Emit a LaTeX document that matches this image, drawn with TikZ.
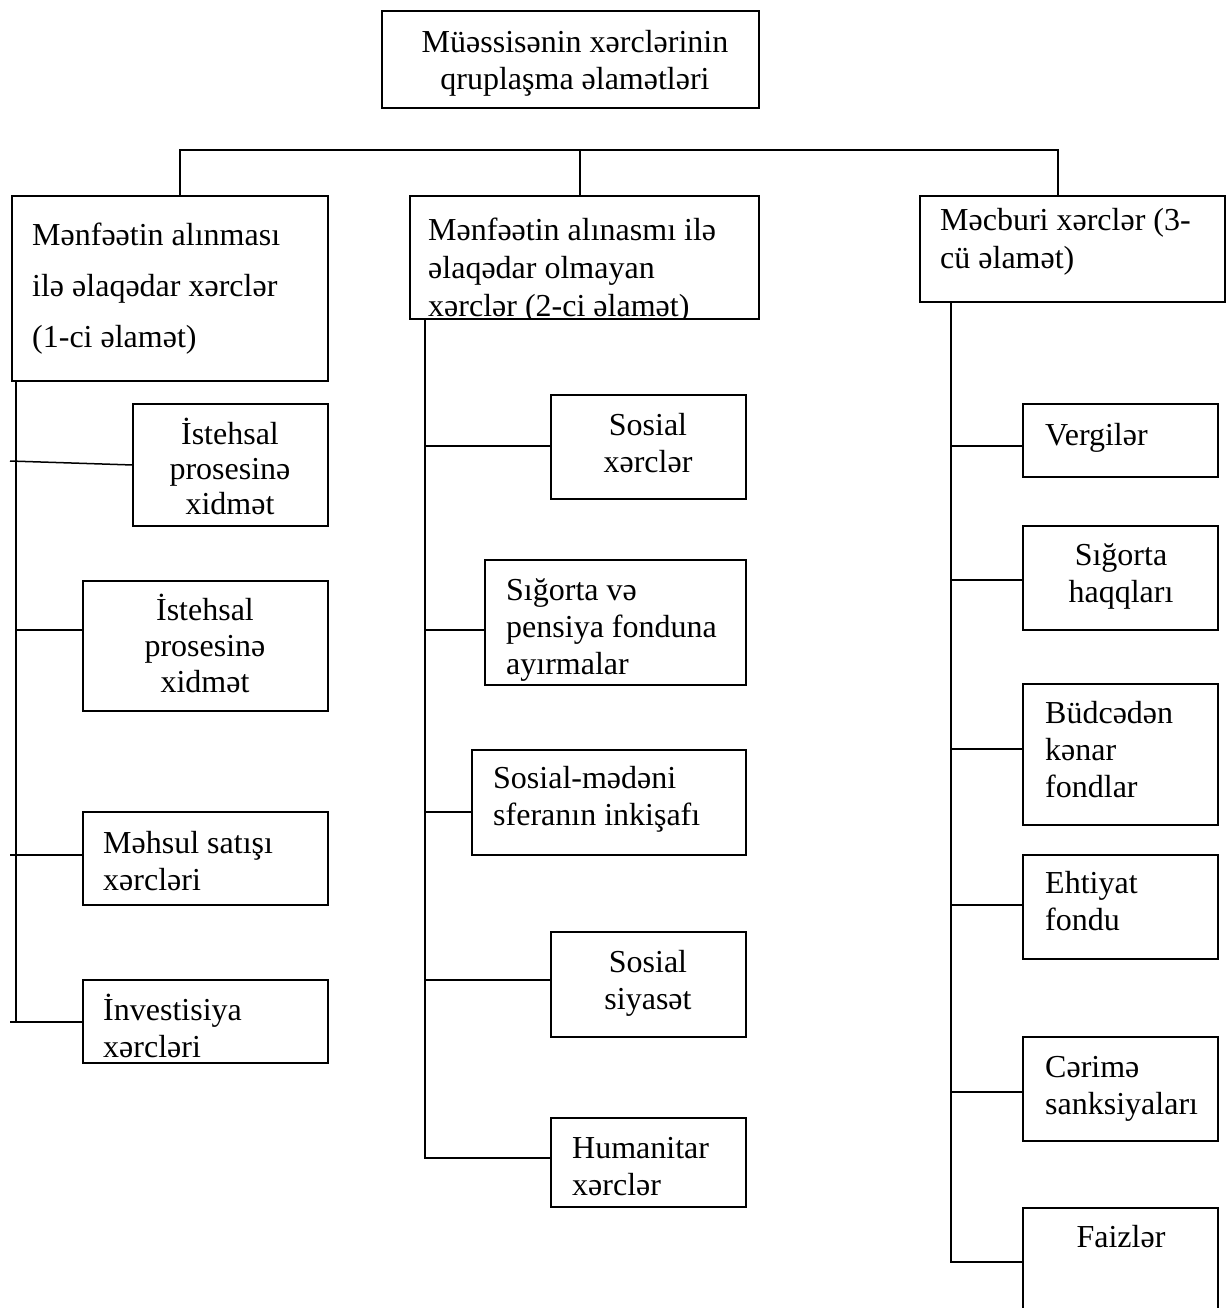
\documentclass[tikz,border=0pt]{standalone}
\usepackage{fontspec}
\setmainfont{Liberation Serif}
\newcommand\bx[5]{\node[box, minimum width={(#4-#2)*1pt}, minimum height={(#5-#3)*1pt}] (#1) at (#2,#3) {};}
\begin{document}
\begin{tikzpicture}[x=1pt,y=-1pt,
  box/.style={draw, line width=1.5pt, inner sep=0pt, outer sep=0pt, anchor=north west},
  txt/.style={inner sep=0pt, align=left, anchor=base west, font=\fontsize{32}{37}\selectfont},
  ctxt/.style={inner sep=0pt, align=center, anchor=base, font=\fontsize{32}{37}\selectfont},
  ln/.style={line width=1.5pt}]
\fill[white] (0,0) rectangle (1227,1308);
\useasboundingbox (0,0) rectangle (1227,1308);

% boxes
\bx{T}{382}{11}{759}{108}
\bx{b1}{12}{196}{328}{381}
\bx{b2}{410}{196}{759}{319}
\bx{b3}{920}{196}{1225}{302}
\bx{A}{133}{404}{328}{526}
\bx{B}{83}{581}{328}{711}
\bx{C}{83}{812}{328}{905}
\bx{D}{83}{980}{328}{1063}
\bx{M1}{551}{395}{746}{499}
\bx{M2}{485}{560}{746}{685}
\bx{M3}{472}{750}{746}{855}
\bx{M4}{551}{932}{746}{1037}
\bx{M5}{551}{1118}{746}{1207}
\bx{R1}{1023}{404}{1218}{477}
\bx{R2}{1023}{526}{1218}{630}
\bx{R3}{1023}{684}{1218}{825}
\bx{R4}{1023}{855}{1218}{959}
\bx{R5}{1023}{1037}{1218}{1141}
\bx{R6}{1023}{1208}{1218}{1330}

% texts (positions are the baseline of the last line)
\node[ctxt] (tT) at (575,90) {Müəssisənin xərclərinin\\qruplaşma əlamətləri};
\node[txt, font=\fontsize{32}{51}\selectfont] (t1) at (32,347) {Mənfəətin alınması\\ilə əlaqədar xərclər\\(1-ci əlamət)};
\begin{scope}
  \clip (b2.north west) rectangle (b2.south east);
  \node[txt, font=\fontsize{32}{38}\selectfont] (t2) at (428,316) {Mənfəətin alınasmı ilə\\əlaqədar olmayan\\xərclər (2-ci əlamət)};
\end{scope}
\node[txt, font=\fontsize{32}{38}\selectfont] (t3) at (940,268) {Məcburi xərclər (3-\\cü əlamət)};

\node[ctxt, font=\fontsize{32}{35}\selectfont] (tA) at (230,514) {İstehsal\\prosesinə\\xidmət};
\node[ctxt, font=\fontsize{32}{36}\selectfont] (tB) at (205,692) {İstehsal\\prosesinə\\xidmət};
\node[txt] (tC) at (103,890) {Məhsul satışı\\xərcləri};
\node[txt] (tD) at (103,1057) {İnvestisiya\\xərcləri};

\node[ctxt] (tM1) at (648,472) {Sosial\\xərclər};
\begin{scope}
  \clip (M2.north west) rectangle (M2.south east);
  \node[txt] (tM2) at (506,674) {Sığorta və\\pensiya fonduna\\ayırmalar};
\end{scope}
\node[txt] (tM3) at (493,825) {Sosial-mədəni\\sferanın inkişafı};
\node[ctxt] (tM4) at (648,1009) {Sosial\\siyasət};
\node[txt] (tM5) at (572,1195) {Humanitar\\xərclər};

\node[txt] (tR1) at (1045,445) {Vergilər};
\node[ctxt] (tR2) at (1121,602) {Sığorta\\haqqları};
\node[txt] (tR3) at (1045,797) {Büdcədən\\kənar\\fondlar};
\node[txt] (tR4) at (1045,930) {Ehtiyat\\fondu};
\node[txt] (tR5) at (1045,1114) {Cərimə\\sanksiyaları};
\node[ctxt] (tR6) at (1121,1247) {Faizlər};

% top connectors
\coordinate (hl) at (180,150);
\coordinate (hm) at (580,150);
\coordinate (hr) at (1058,150);
\draw[ln] (hl |- b1.north) -- (hl) -- (hr) -- (hr |- b3.north);
\draw[ln] (hm) -- (hm |- b2.north);

% left trunk
\coordinate (lt) at (16,1022);
\draw[ln] (lt |- b1.south) -- (lt);
\coordinate (la) at (10,461);
\coordinate (lb) at (16,630);
\coordinate (lc) at (10,855);
\coordinate (ld) at (10,1022);
\draw[ln] (la) -- (A.west);
\draw[ln] (lb) -- (lb -| B.west);
\draw[ln] (lc) -- (lc -| C.west);
\draw[ln] (ld) -- (ld -| D.west);

% middle trunk
\coordinate (mt) at (425,1158);
\draw[ln] (mt |- b2.south) -- (mt) -- (mt -| M5.west);
\coordinate (m1) at (425,446);
\coordinate (m2) at (425,630);
\coordinate (m3) at (425,812);
\coordinate (m4) at (425,980);
\draw[ln] (m1) -- (m1 -| M1.west);
\draw[ln] (m2) -- (m2 -| M2.west);
\draw[ln] (m3) -- (m3 -| M3.west);
\draw[ln] (m4) -- (m4 -| M4.west);

% right trunk
\coordinate (rt) at (951,1262);
\draw[ln] (rt |- b3.south) -- (rt) -- (rt -| R6.west);
\coordinate (r1) at (951,446);
\coordinate (r2) at (951,580);
\coordinate (r3) at (951,749);
\coordinate (r4) at (951,905);
\coordinate (r5) at (951,1092);
\draw[ln] (r1) -- (r1 -| R1.west);
\draw[ln] (r2) -- (r2 -| R2.west);
\draw[ln] (r3) -- (r3 -| R3.west);
\draw[ln] (r4) -- (r4 -| R4.west);
\draw[ln] (r5) -- (r5 -| R5.west);
\end{tikzpicture}
\end{document}
